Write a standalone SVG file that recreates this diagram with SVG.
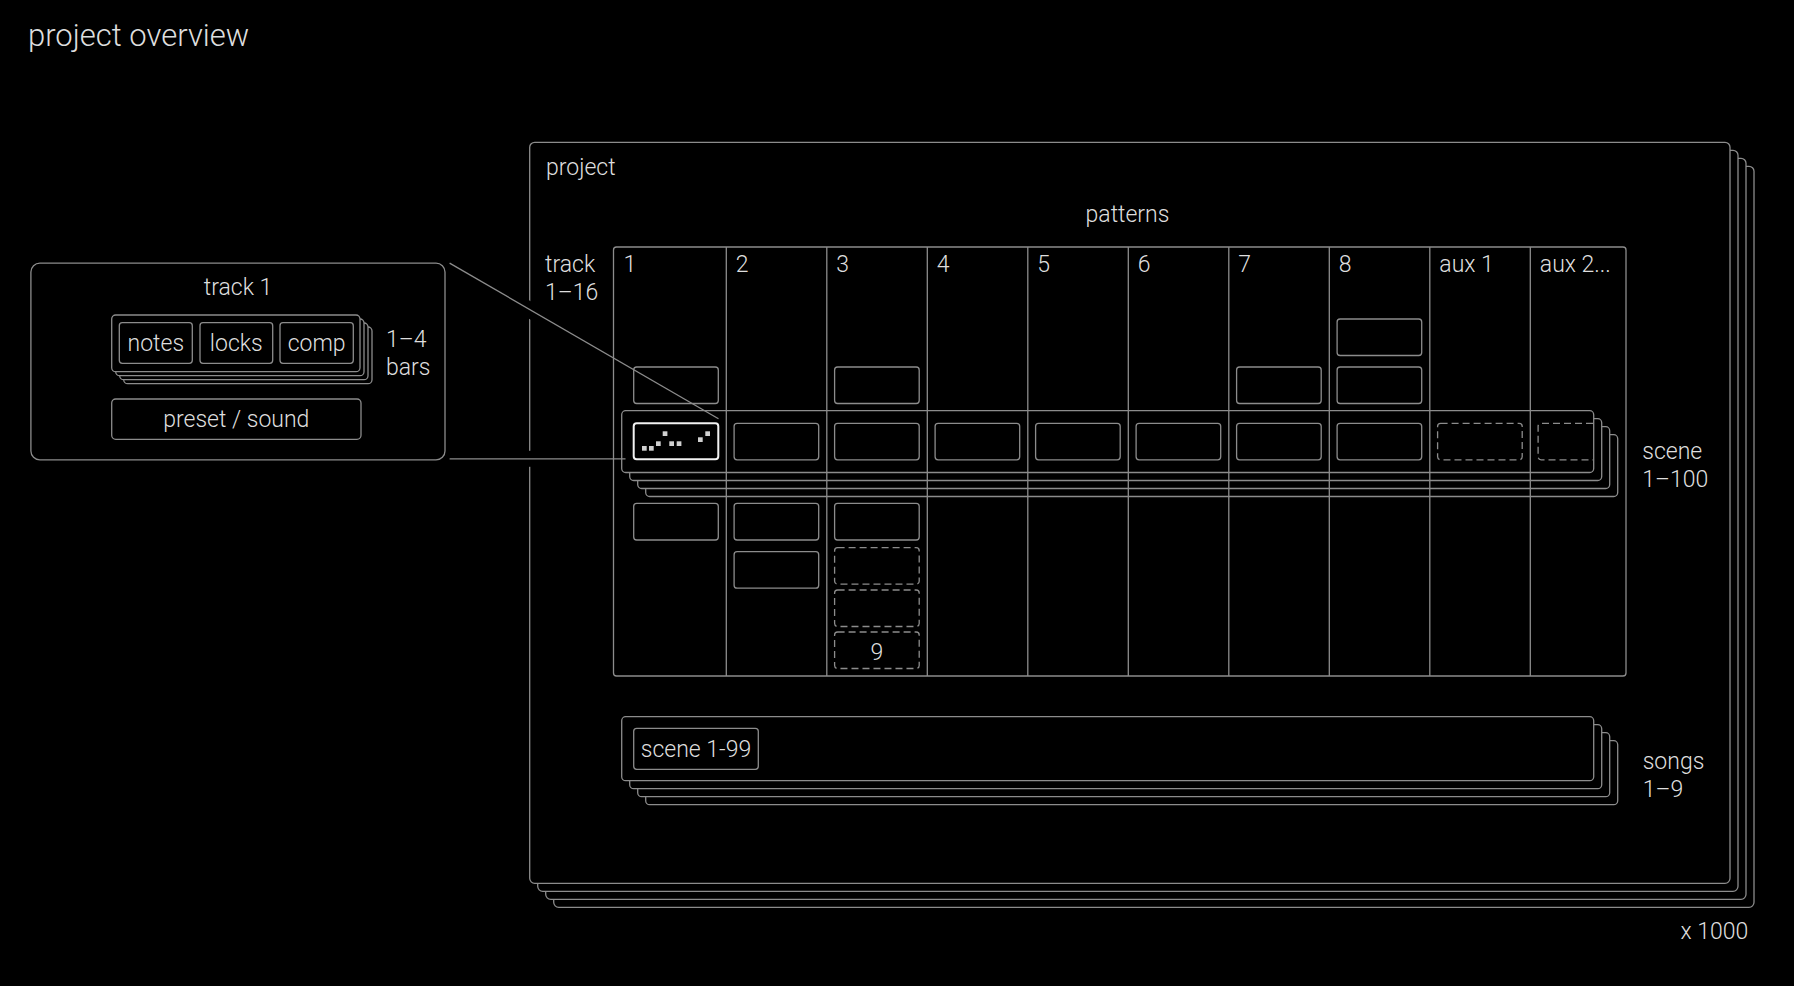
<svg xmlns="http://www.w3.org/2000/svg" width="1794" height="986" viewBox="0 0 1794 986">
<style>
  .ln { fill: none; stroke: #8c8c8c; stroke-width: 1.3; }
  .bk { fill: #000; stroke: #8c8c8c; stroke-width: 1.3; }
  .dash { fill: none; stroke: #8c8c8c; stroke-width: 1.3; stroke-dasharray: 7 4; }
  .hl { fill: none; stroke: #f2f2f2; stroke-width: 2; }
  .dot { fill: #d0d0d0; }
  .mask { stroke: #000; stroke-width: 16; fill: none; }
  text { font-family: Roboto, "Liberation Sans", sans-serif; font-weight: 300; fill: #dedede; font-size: 23px; }
  .mid { text-anchor: middle; }
  .title { font-size: 31px; }
</style>
<rect x="0" y="0" width="1794" height="986" fill="#000"/>
<text x="28" y="45.7" class="title">project overview</text>

<g id="project">
  <rect class="bk" x="553.7" y="166.3" width="1200.3" height="741" rx="5"/>
  <rect class="bk" x="545.7" y="158.3" width="1200.3" height="741" rx="5"/>
  <rect class="bk" x="537.7" y="150.3" width="1200.3" height="741" rx="5"/>
  <rect class="bk" x="529.7" y="142.3" width="1200.3" height="741" rx="5"/>
  <text x="546" y="175">project</text>
  <text x="1127.5" y="221.7" class="mid">patterns</text>
  <text x="545" y="271.7">track</text>
  <text x="545" y="300">1–16</text>
</g>
<text x="1748.3" y="939.3" text-anchor="end">x 1000</text>

<g id="track1">
  <rect class="bk" x="30.9" y="263.1" width="414.1" height="196.8" rx="9"/>
  <text x="238" y="295" class="mid">track 1</text>
  <rect class="bk" x="123.7" y="327" width="248.3" height="56.7" rx="4"/>
  <rect class="bk" x="119.7" y="323" width="248.3" height="56.7" rx="4"/>
  <rect class="bk" x="115.7" y="319" width="248.3" height="56.7" rx="4"/>
  <rect class="bk" x="111.7" y="315" width="248.3" height="56.7" rx="4"/>
  <rect class="ln" x="119.3" y="322.7" width="73" height="40.6" rx="3"/>
  <rect class="ln" x="200" y="322.7" width="72.7" height="40.6" rx="3"/>
  <rect class="ln" x="280" y="322.7" width="73.3" height="40.6" rx="3"/>
  <text x="155.8" y="351" class="mid">notes</text>
  <text x="236.3" y="351" class="mid">locks</text>
  <text x="316.6" y="351" class="mid">comp</text>
  <text x="386" y="346.7">1–4</text>
  <text x="386" y="375">bars</text>
  <rect class="ln" x="111.7" y="399" width="249.3" height="40.3" rx="4"/>
  <text x="236.3" y="427" class="mid">preset / sound</text>
</g>

<g id="patterns">
  <rect class="ln" x="613.5" y="247" width="1012.5" height="429" rx="3"/>
  <g id="scenes">
    <rect class="bk" x="645.7" y="434.7" width="972" height="61.8" rx="4"/>
    <rect class="bk" x="637.7" y="426.7" width="972" height="61.8" rx="4"/>
    <rect class="bk" x="629.7" y="418.7" width="972" height="61.8" rx="4"/>
    <rect class="bk" x="621.7" y="410.7" width="972" height="61.8" rx="4"/>
  </g>
  <g id="columns">
    <path class="ln" d="M726.3 247V676M826.8 247V676M927.3 247V676M1027.8 247V676M1128.3 247V676M1228.8 247V676M1329.3 247V676M1429.8 247V676M1530.3 247V676"/>
    <text x="623.5" y="271.7">1</text>
    <text x="735.8" y="271.7">2</text>
    <text x="836.3" y="271.7">3</text>
    <text x="936.8" y="271.7">4</text>
    <text x="1037.3" y="271.7">5</text>
    <text x="1137.8" y="271.7">6</text>
    <text x="1238.3" y="271.7">7</text>
    <text x="1338.8" y="271.7">8</text>
    <text x="1439.3" y="271.7">aux 1</text>
    <text x="1539.8" y="271.7">aux 2...</text>
  </g>
  <g id="pattern-boxes">
    <rect class="ln" x="633.7" y="367" width="84.6" height="36.5" rx="3"/>
    <rect class="ln" x="633.7" y="503.3" width="84.6" height="36.7" rx="3"/>
    <rect class="ln" x="734.1" y="423.3" width="84.6" height="36.5" rx="3"/>
    <rect class="ln" x="734.1" y="503.3" width="84.6" height="36.7" rx="3"/>
    <rect class="ln" x="734.1" y="551.7" width="84.6" height="36.5" rx="3"/>
    <rect class="ln" x="834.6" y="367" width="84.6" height="36.5" rx="3"/>
    <rect class="ln" x="834.6" y="423.3" width="84.6" height="36.5" rx="3"/>
    <rect class="ln" x="834.6" y="503.3" width="84.6" height="36.7" rx="3"/>
    <rect class="dash" x="834.6" y="547.7" width="84.6" height="36.5" rx="3"/>
    <rect class="dash" x="834.6" y="590" width="84.6" height="36.5" rx="3"/>
    <rect class="dash" x="834.6" y="632" width="84.6" height="36.5" rx="3"/>
    <text x="877" y="660" class="mid">9</text>
    <rect class="ln" x="935.1" y="423.3" width="84.6" height="36.5" rx="3"/>
    <rect class="ln" x="1035.6" y="423.3" width="84.6" height="36.5" rx="3"/>
    <rect class="ln" x="1136.1" y="423.3" width="84.6" height="36.5" rx="3"/>
    <rect class="ln" x="1236.6" y="367" width="84.6" height="36.5" rx="3"/>
    <rect class="ln" x="1236.6" y="423.3" width="84.6" height="36.5" rx="3"/>
    <rect class="ln" x="1337.1" y="319" width="84.6" height="36.5" rx="3"/>
    <rect class="ln" x="1337.1" y="367" width="84.6" height="36.5" rx="3"/>
    <rect class="ln" x="1337.1" y="423.3" width="84.6" height="36.5" rx="3"/>
    <rect class="dash" x="1437.6" y="423.3" width="84.6" height="36.5" rx="3"/>
    <path class="dash" d="M1593 423.3H1541.1A3 3 0 0 0 1538.1 426.3V456.8A3 3 0 0 0 1541.1 459.8H1593"/>
  </g>
  <g id="active-pattern">
    <rect class="hl" x="633.7" y="423.3" width="84.6" height="36" rx="3"/>
    <rect class="dot" x="642" y="446" width="4.7" height="4.7"/>
    <rect class="dot" x="649" y="446" width="4.7" height="4.7"/>
    <rect class="dot" x="656" y="441.3" width="4.7" height="4.7"/>
    <rect class="dot" x="662.7" y="431.3" width="4.7" height="4.7"/>
    <rect class="dot" x="669.3" y="441.3" width="4.7" height="4.7"/>
    <rect class="dot" x="676.7" y="441.3" width="4.7" height="4.7"/>
    <rect class="dot" x="698" y="437.3" width="4.7" height="4.7"/>
    <rect class="dot" x="705.3" y="431.3" width="4.7" height="4.7"/>
  </g>
  <text x="1642.3" y="459.3">scene</text>
  <text x="1642.3" y="486.7">1–100</text>
</g>

<g id="songs">
  <rect class="bk" x="645.7" y="740.7" width="972" height="64" rx="4"/>
  <rect class="bk" x="637.7" y="732.7" width="972" height="64" rx="4"/>
  <rect class="bk" x="629.7" y="724.7" width="972" height="64" rx="4"/>
  <rect class="bk" x="621.7" y="716.7" width="972" height="64" rx="4"/>
  <rect class="ln" x="633.7" y="728.3" width="124.6" height="41" rx="3"/>
  <text x="696" y="756.7" class="mid">scene 1-99</text>
  <text x="1642.7" y="769">songs</text>
  <text x="1642.7" y="797.3">1–9</text>
</g>

<g id="connectors">
  <line class="mask" x1="515" y1="301.4" x2="545" y2="318.7"/>
  <line class="mask" x1="515" y1="458.8" x2="545" y2="458.8"/>
  <line class="ln" x1="449.6" y1="263.1" x2="718.5" y2="418.7"/>
  <line class="ln" x1="449.6" y1="458.8" x2="625.5" y2="458.8"/>
</g>
</svg>
